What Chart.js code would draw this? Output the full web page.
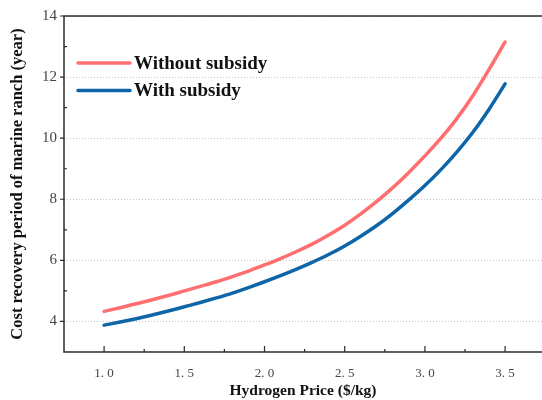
<!DOCTYPE html>
<html>
<head>
<meta charset="utf-8">
<script src="https://cdn.jsdelivr.net/npm/chart.js@4.4.0/dist/chart.umd.min.js"></script>
<style>
html, body { margin: 0; padding: 0; background: #fff; }
</style>
</head>
<body>
<canvas id="chart" width="542" height="400"></canvas>
<script>
// values
const prices = [1.0, 1.1, 1.2, 1.3, 1.4, 1.5, 1.6, 1.7, 1.8, 1.9, 2.0, 2.1, 2.2,
                2.3, 2.4, 2.5, 2.6, 2.7, 2.8, 2.9, 3.0, 3.1, 3.2, 3.3, 3.4, 3.5];
const withoutSubsidy = [4.33, 4.45, 4.58, 4.71, 4.85, 5.00, 5.15, 5.30, 5.47, 5.65, 5.85, 6.06, 6.29,
                        6.54, 6.83, 7.15, 7.52, 7.93, 8.38, 8.88, 9.42, 10.00, 10.65, 11.40, 12.25, 13.15];
const withSubsidy = [3.88, 3.98, 4.09, 4.21, 4.34, 4.48, 4.62, 4.77, 4.93, 5.11, 5.30, 5.50, 5.71,
                     5.94, 6.19, 6.47, 6.79, 7.14, 7.54, 7.98, 8.45, 8.97, 9.55, 10.20, 10.95, 11.78];
const xTicks = [1.0, 1.5, 2.0, 2.5, 3.0, 3.5];
const xMinorTicks = [1.25, 1.75, 2.25, 2.75, 3.25];
const yTicks = [4, 6, 8, 10, 12, 14];
const yMinorTicks = [5, 7, 9, 11, 13];

const SERIF = '"Liberation Serif", "DejaVu Serif", serif';

function toPoints(ys) {
    return prices.map((p, i) => ({ x: p, y: ys[i] }));
}

// frame, tick marks and the legend inside the plot
const framePlugin = {
    id: 'frame',
    afterDraw(chart) {
        const ctx = chart.ctx;
        const a = chart.chartArea;
        const xs = chart.scales.x, ys = chart.scales.y;
        ctx.save();
        ctx.strokeStyle = '#2b2b2b';
        ctx.lineWidth = 1.5;
        ctx.beginPath();
        ctx.moveTo(a.right + 2, a.top);
        ctx.lineTo(a.left, a.top);
        ctx.lineTo(a.left, a.bottom);
        ctx.lineTo(a.right + 2, a.bottom);
        ctx.stroke();

        ctx.lineWidth = 1.2;
        ctx.beginPath();
        yTicks.forEach(v => {
            const y = ys.getPixelForValue(v);
            ctx.moveTo(a.left - 4, y); ctx.lineTo(a.left, y);
        });
        yMinorTicks.forEach(v => {
            const y = ys.getPixelForValue(v);
            ctx.moveTo(a.left, y); ctx.lineTo(a.left + 3, y);
        });
        xTicks.forEach(v => {
            const x = xs.getPixelForValue(v);
            ctx.moveTo(x, a.bottom); ctx.lineTo(x, a.bottom - 6);
        });
        xMinorTicks.forEach(v => {
            const x = xs.getPixelForValue(v);
            ctx.moveTo(x, a.bottom); ctx.lineTo(x, a.bottom - 3);
        });
        ctx.stroke();

        // legend
        ctx.font = 'bold 19px ' + SERIF;
        ctx.textBaseline = 'middle';
        ctx.fillStyle = '#111';
        chart.data.datasets.forEach((ds, i) => {
            const y = a.top + 47 + i * 27.5;
            ctx.strokeStyle = ds.borderColor;
            ctx.lineWidth = 3.5;
            ctx.lineCap = 'round';
            ctx.beginPath();
            ctx.moveTo(a.left + 14, y);
            ctx.lineTo(a.left + 66, y);
            ctx.stroke();
            ctx.fillText(ds.label, a.left + 70, y + 1);
        });
        ctx.restore();
    }
};

new Chart(document.getElementById('chart'), {
    type: 'line',
    data: {
        datasets: [
            {
                label: 'Without subsidy',
                data: toPoints(withoutSubsidy),
                borderColor: '#ff6f70',
                borderWidth: 3.5
            },
            {
                label: 'With subsidy',
                data: toPoints(withSubsidy),
                borderColor: '#0e66a9',
                borderWidth: 3.5
            }
        ]
    },
    options: {
        responsive: false,
        animation: false,
        layout: { padding: { top: 14, right: 0, left: 0, bottom: 0 } },
        elements: {
            point: { radius: 0 },
            line: { tension: 0.4, cubicInterpolationMode: 'monotone', borderCapStyle: 'round' }
        },
        plugins: {
            legend: { display: false },
            tooltip: { enabled: false }
        },
        scales: {
            x: {
                type: 'linear',
                min: 0.75,
                max: 3.73,
                afterBuildTicks: s => { s.ticks = xTicks.map(v => ({ value: v })); },
                afterFit: s => { s.height = 48; },
                grid: { display: false },
                border: { display: false },
                ticks: {
                    padding: 6,
                    color: '#444',
                    font: { family: SERIF, size: 13 },
                    callback: v => v.toFixed(1).replace('.', '. ')
                },
                title: {
                    display: true,
                    text: 'Hydrogen Price ($/kg)',
                    color: '#111',
                    font: { family: SERIF, size: 15.5, weight: 'bold' },
                    padding: { top: 0, bottom: 0 }
                }
            },
            y: {
                min: 3,
                max: 14,
                afterBuildTicks: s => { s.ticks = yTicks.map(v => ({ value: v })); },
                afterFit: s => { s.width = 64; },
                grid: { color: '#c4c4c4', lineWidth: 1, drawTicks: false },
                border: { display: false, dash: [1, 2] },
                ticks: {
                    padding: 7,
                    color: '#444',
                    font: { family: SERIF, size: 15 }
                },
                title: {
                    display: true,
                    text: 'Cost recovery period of marine ranch (year)',
                    color: '#111',
                    font: { family: SERIF, size: 16.5, weight: 'bold' },
                    padding: { top: 8, bottom: 0 }
                }
            }
        }
    },
    plugins: [framePlugin]
});
</script>
</body>
</html>
